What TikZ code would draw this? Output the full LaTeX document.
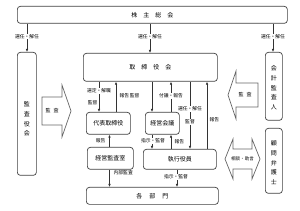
\documentclass[tikz,border=0pt]{standalone}
\usepackage{fontspec}
\setmainfont{Noto Sans CJK JP}
\usetikzlibrary{arrows.meta,calc}
\begin{document}
\begin{tikzpicture}[x=1pt,y=-1pt,
 box/.style={draw=black!75,line width=0.7pt,rounded corners=3pt,anchor=north west,inner sep=0pt,font=\fontsize{6}{7}\selectfont},
 arr/.style={draw=black!80,line width=0.6pt,-{Latex[length=3pt,width=2.6pt]}},
 lbl/.style={font=\fontsize{4.8}{5}\selectfont,inner sep=0.4pt,fill=white},
 lbln/.style={font=\fontsize{4.8}{5}\selectfont,inner sep=0.4pt},
 vtxt/.style={font=\fontsize{6}{9.8}\selectfont,align=center},
 big/.style={draw=black!60,line width=0.7pt,fill=white}]
\useasboundingbox (0,0) rectangle (300,211);
% boxes
\node[box,minimum width=270pt,minimum height=17pt] (kabu) at (17,6) {株\hspace{6pt}主\hspace{6pt}総\hspace{6pt}会};
\node[box,minimum width=134pt,minimum height=28pt] (tori) at (83,53) {取\hspace{6pt}締\hspace{6pt}役\hspace{6pt}会};
\node[box,minimum width=19pt,minimum height=123pt,label={[vtxt,yshift=-5pt]center:監\\査\\役\\会}] (kansa) at (17,52) {};
\node[box,minimum width=17pt,minimum height=68pt,label={[vtxt,yshift=-1.5pt]center:会\\計\\監\\査\\人}] (kaikei) at (265,52) {};
\node[box,minimum width=17pt,minimum height=65pt,label={[vtxt,yshift=-2pt]center:顧\\問\\弁\\護\\士}] (komon) at (265,128) {};
\node[box,minimum width=44pt,minimum height=22pt] (daihyo) at (86,112) {代表取締役};
\node[box,minimum width=34pt,minimum height=22pt] (kaigi) at (145,112) {経営会議};
\node[box,minimum width=46pt,minimum height=22pt] (shitsu) at (87,147) {経営監査室};
\node[box,minimum width=73pt,minimum height=20pt] (shikko) at (143,149) {執行役員};
\node[box,minimum width=132pt,minimum height=17pt] (bumon) at (86,187) {各\hspace{7pt}部\hspace{7pt}門};
% x positions
\coordinate (xa) at (27,0);
\coordinate (xb) at (150,0);
\coordinate (xc) at (273,0);
\coordinate (x1) at (99,0);
\coordinate (x2) at (116,0);
\coordinate (x3) at (152,0);
\coordinate (x4) at (171,0);
\coordinate (x5) at (190,0);
\coordinate (x6) at (207,0);
\coordinate (x7) at (109.5,0);
\coordinate (x8) at (177,0);
% shareholders
\draw[arr] (xa |- kabu.south) -- node[lbl,pos=0.45]{選任・解任} (xa |- kansa.north);
\draw[arr] (xb |- kabu.south) -- node[lbl,pos=0.45]{選任・解任} (xb |- tori.north);
\draw[arr] (xc |- kabu.south) -- node[lbl,pos=0.45]{選任・解任} (xc |- kaikei.north);
% board <-> representative
\draw[arr] (x1 |- tori.south) -- (x1 |- daihyo.north);
\node[lbl] (l1) at (99,91) {選定・解職};
\node[lbln,anchor=east] (l2) at (98,103) {監督};
\draw[arr] (x2 |- daihyo.north) -- (x2 |- tori.south);
\node[lbln,anchor=west] (l3) at (119,96) {報告};
% board <-> management meeting
\draw[arr] (x3 |- tori.south) -- (x3 |- kaigi.north);
\node[lbln,anchor=east] (l4) at (140,96) {監督};
\draw[arr] (x4 |- kaigi.north) -- (x4 |- tori.south);
\node[lbl] (l5) at (171,96) {付議・報告};
% board <-> executive officers
\draw[arr] (x5 |- tori.south) -- (x5 |- shikko.north);
\node[lbl] (l6) at (190,109) {選任・解任};
\node[lbl] (l7) at (190,122) {監督};
\draw[arr] (x6 |- shikko.north) -- (x6 |- tori.south);
\node[lbln,anchor=west] (l8) at (209,120) {報告};
% meeting <-> executive
\draw[arr] (x3 |- kaigi.south) -- (x3 |- shikko.north);
\node[lbl] (l9) at (153,141) {指示・監督};
\draw[arr] (x4 |- shikko.north) -- (x4 |- kaigi.south);
\node[lbln,anchor=west] (l10) at (174,142) {報告};
% audit office
\draw[arr] (x7 |- shitsu.north) -- (x7 |- daihyo.south);
\node[lbln,anchor=east] (l11) at (106,141) {報告};
\draw[arr] (x7 |- shitsu.south) -- (x7 |- bumon.north);
\node[lbln,anchor=west] (l12) at (113,173) {内部監査};
\draw[arr] (x8 |- shikko.south) -- (x8 |- bumon.north);
\node[lbl] (l13) at (176,177) {指示・監督};
% big arrows
\draw[big] (42,97) -- (62,97) -- (62,85) -- (71,111) -- (62,137) -- (62,125) -- (42,125) -- cycle;
\node[font=\fontsize{5}{6}\selectfont] (t1) at (52,111) {監\hspace{3pt}査};
\draw[big] (258,83) -- (236,83) -- (236,71) -- (228,95) -- (236,119) -- (236,107) -- (258,107) -- cycle;
\node[font=\fontsize{5}{6}\selectfont] (t2) at (245,95) {監\hspace{3pt}査};
\draw[big] (233,149) -- (252,149) -- (252,139) -- (260,159) -- (252,179) -- (252,169) -- (233,169) -- (233,179) -- (225,159) -- (233,139) -- cycle;
\node[font=\fontsize{4.6}{5}\selectfont] (t3) at (242.5,159) {相談・助言};
\end{tikzpicture}
\end{document}
